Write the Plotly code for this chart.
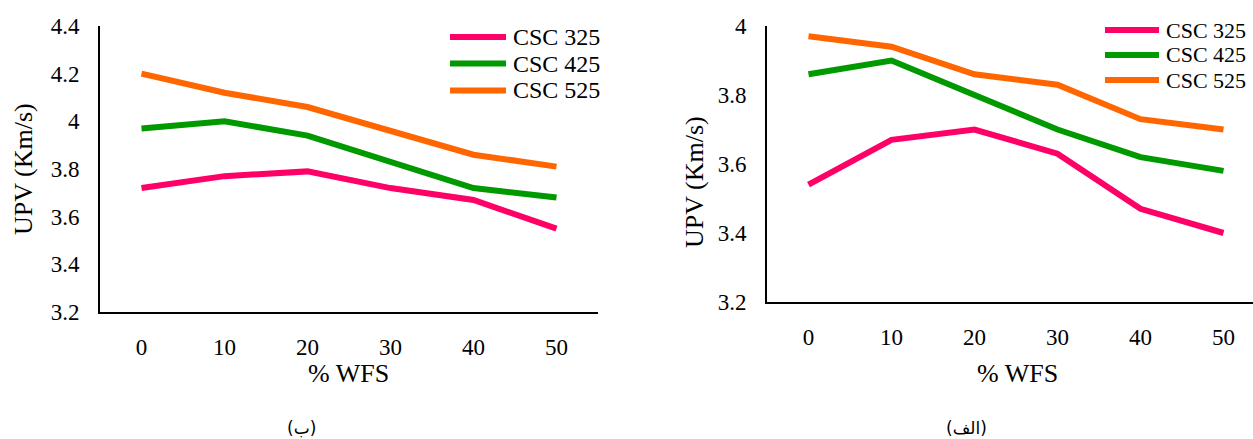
import plotly.graph_objects as go

# % WFS replacement levels (x categories)
wfs = ["0", "10", "20", "30", "40", "50"]

# Series names and colours
series_names = ["CSC 325", "CSC 425", "CSC 525"]
series_colors = ["#FF0066", "#009900", "#FF6600"]

# Panel (ب): UPV values (Km/s)
upv_b_325 = [3.72, 3.77, 3.79, 3.72, 3.67, 3.55]
upv_b_425 = [3.97, 4.00, 3.94, 3.83, 3.72, 3.68]
upv_b_525 = [4.20, 4.12, 4.06, 3.96, 3.86, 3.81]

# Panel (الف): UPV values (Km/s)
upv_a_325 = [3.54, 3.67, 3.70, 3.63, 3.47, 3.40]
upv_a_425 = [3.86, 3.90, 3.80, 3.70, 3.62, 3.58]
upv_a_525 = [3.97, 3.94, 3.86, 3.83, 3.73, 3.70]

# Y tick labels
yticks_b = [3.2, 3.4, 3.6, 3.8, 4.0, 4.2, 4.4]
ytext_b = ["3.2", "3.4", "3.6", "3.8", "4", "4.2", "4.4"]
yticks_a = [3.2, 3.4, 3.6, 3.8, 4.0]
ytext_a = ["3.2", "3.4", "3.6", "3.8", "4"]

W, H = 1253, 439
FONT = "Liberation Serif"


def px_x(p):
    return p / W


def px_y(p):
    return 1 - p / H


fig = go.Figure()

for vals, name, color in zip([upv_b_325, upv_b_425, upv_b_525], series_names, series_colors):
    fig.add_trace(go.Scatter(x=wfs, y=vals, mode="lines", name=name,
                             line=dict(color=color, width=6),
                             xaxis="x", yaxis="y", showlegend=False))

for vals, name, color in zip([upv_a_325, upv_a_425, upv_a_525], series_names, series_colors):
    fig.add_trace(go.Scatter(x=wfs, y=vals, mode="lines", name=name,
                             line=dict(color=color, width=6),
                             xaxis="x2", yaxis="y2", showlegend=False))

axis_common = dict(showgrid=False, zeroline=False, showline=True, linecolor="black",
                   linewidth=2, ticks="", tickfont=dict(family=FONT, size=23, color="black"))

fig.update_layout(
    width=W, height=H, autosize=False,
    template="none",
    font=dict(family=FONT, size=23, color="black"),
    margin=dict(l=0, r=0, t=0, b=0, pad=0),
    paper_bgcolor="white", plot_bgcolor="white",
    showlegend=False,
    xaxis=dict(domain=[px_x(100), px_x(598)], anchor="y", type="category",
               range=[-0.5, 5.5], ticklabelstandoff=13, **axis_common),
    yaxis=dict(domain=[px_y(312), px_y(26)], anchor="x", range=[3.2, 4.4],
               tickvals=yticks_b, ticktext=ytext_b, ticklabelstandoff=14, **axis_common),
    xaxis2=dict(domain=[px_x(767), 1.0], anchor="y2", type="category",
                range=[-0.5, 5.5 - (767 + 6 * 83 - W) / 83], ticklabelstandoff=13, **axis_common),
    yaxis2=dict(domain=[px_y(302), px_y(26)], anchor="x2", range=[3.2, 4.0],
                tickvals=yticks_a, ticktext=ytext_a, ticklabelstandoff=14, **axis_common),
)

annotations = []
shapes = []

# Axis titles and panel captions
title_font = dict(family=FONT, size=26, color="black")
for x, y, text, angle in [(24, 169, "UPV (Km/s)", -90), (694, 182, "UPV (Km/s)", -90),
                          (349, 373, "% WFS", 0), (1017, 373, "% WFS", 0)]:
    annotations.append(dict(x=px_x(x), y=px_y(y), xref="paper", yref="paper", text=text,
                            showarrow=False, textangle=angle, font=title_font,
                            xanchor="center", yanchor="middle"))

for x, text in [(301, "(ب)"), (966, "(الف)")]:
    annotations.append(dict(x=px_x(x), y=px_y(428), xref="paper", yref="paper", text=text,
                            showarrow=False, font=dict(family="DejaVu Sans", size=17, color="black"),
                            xanchor="center", yanchor="middle"))

# Legends for both panels
for x0, x1, tx, rows, fsize in [(450, 506, 511, [37, 63.5, 90.5], 24),
                                (1105, 1159, 1164, [30, 55, 80], 22)]:
    for name, color, ry in zip(series_names, series_colors, rows):
        shapes.append(dict(type="line", xref="paper", yref="paper",
                           x0=px_x(x0), x1=px_x(x1), y0=px_y(ry), y1=px_y(ry),
                           line=dict(color=color, width=6)))
        annotations.append(dict(x=px_x(tx), y=px_y(ry), xref="paper", yref="paper", text=name,
                                showarrow=False, font=dict(family=FONT, size=fsize, color="black"),
                                xanchor="left", yanchor="middle"))

fig.update_layout(annotations=annotations, shapes=shapes)

fig.write_html("out.html")
